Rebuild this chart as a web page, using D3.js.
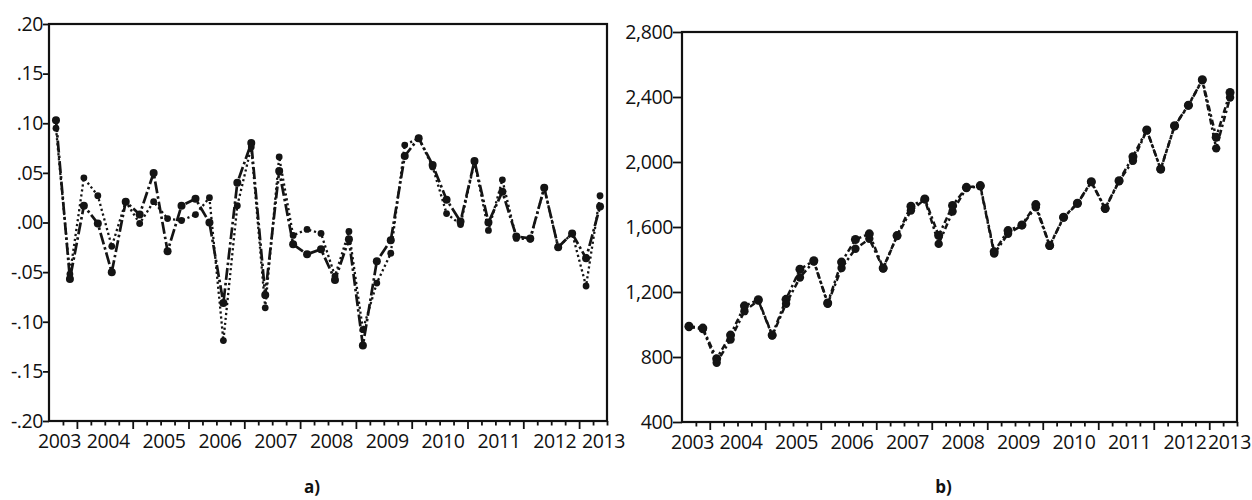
<!DOCTYPE html>
<html>
<head>
<meta charset="utf-8">
<script src="https://cdn.jsdelivr.net/npm/d3@7/dist/d3.min.js"></script>
<style>
  html, body { margin: 0; padding: 0; background: #fff; }
  svg { display: block; font-family: "Open Sans", "Liberation Sans", sans-serif; }
</style>
</head>
<body>
<svg id="chart" width="1252" height="500"></svg>
<script>
// quarterly observations, 2003Q3 .. 2013Q2
const periods = [
  "2003Q3", "2003Q4",
  "2004Q1", "2004Q2", "2004Q3", "2004Q4",
  "2005Q1", "2005Q2", "2005Q3", "2005Q4",
  "2006Q1", "2006Q2", "2006Q3", "2006Q4",
  "2007Q1", "2007Q2", "2007Q3", "2007Q4",
  "2008Q1", "2008Q2", "2008Q3", "2008Q4",
  "2009Q1", "2009Q2", "2009Q3", "2009Q4",
  "2010Q1", "2010Q2", "2010Q3", "2010Q4",
  "2011Q1", "2011Q2", "2011Q3", "2011Q4",
  "2012Q1", "2012Q2", "2012Q3", "2012Q4",
  "2013Q1", "2013Q2"
];
const yearLabels = [2003, 2004, 2005, 2006, 2007, 2008, 2009, 2010, 2011, 2012, 2013];

// panel a) : growth rates
const growthDashed = [
  0.103, -0.057, 0.017, -0.001, -0.050, 0.021, 0.008, 0.050, -0.029, 0.017,
  0.024, 0.000, -0.081, 0.040, 0.080, -0.073, 0.052, -0.022, -0.032, -0.027,
  -0.058, -0.017, -0.124, -0.039, -0.018, 0.067, 0.085, 0.058, 0.023, 0.001,
  0.062, 0.000, 0.031, -0.014, -0.016, 0.035, -0.025, -0.011, -0.036, 0.016
];
const growthDotted = [
  0.095, -0.052, 0.045, 0.027, -0.024, 0.021, -0.001, 0.021, 0.004, 0.002,
  0.008, 0.025, -0.119, 0.017, 0.076, -0.086, 0.066, -0.013, -0.007, -0.011,
  -0.054, -0.009, -0.108, -0.061, -0.031, 0.078, 0.085, 0.056, 0.009, -0.002,
  0.061, -0.008, 0.043, -0.016, -0.017, 0.035, -0.025, -0.011, -0.064, 0.027
];
const growthTicks = [-0.20, -0.15, -0.10, -0.05, 0.00, 0.05, 0.10, 0.15, 0.20];

// panel b) : levels
const levelActual = [
  990, 978, 790, 935, 1115, 1152, 935, 1155, 1340, 1392,
  1132, 1384, 1523, 1558, 1347, 1547, 1728, 1773, 1547, 1732,
  1844, 1855, 1448, 1578, 1613, 1738, 1486, 1660, 1746, 1879,
  1715, 1885, 2033, 2197, 1957, 2223, 2350, 2506, 2152, 2428
];
const levelFitted = [
  985, 972, 765, 908, 1082, 1148, 932, 1127, 1289, 1388,
  1128, 1347, 1466, 1527, 1345, 1545, 1701, 1770, 1496, 1695,
  1840, 1850, 1436, 1558, 1610, 1722, 1484, 1658, 1744, 1876,
  1712, 1882, 2008, 2195, 1955, 2220, 2348, 2504, 2084, 2397
];
const levelTicks = [400, 800, 1200, 1600, 2000, 2400, 2800];

const svg = d3.select("#chart");
const FONT = 19.5;

const toTime = p => +p.slice(0, 4) + (+p.slice(5) - 1) / 4 + 0.125;

function fmtGrowth(v) {
  const s = Math.abs(v).toFixed(2).replace(/^0/, "");
  return (v < -1e-9 ? "-" : "") + s;
}

function drawPanel(p) {
  const g = svg.append("g");
  const x = d3.scaleLinear().domain([2003.5, 2013.5]).range([p.left, p.right]);
  const y = d3.scaleLinear().domain(p.domain).range([p.bottom, p.top]);

  // y axis
  const ya = g.append("g")
    .attr("transform", `translate(${p.left},0)`)
    .call(d3.axisLeft(y).tickValues(p.ticks).tickFormat(p.fmt)
      .tickSize(p.yTick).tickPadding(0));
  ya.select(".domain").remove();
  ya.selectAll("line").attr("stroke", "#111").attr("stroke-width", 1.8);
  ya.selectAll("text").attr("font-size", FONT).attr("fill", "#111")
    .attr("letter-spacing", -0.4)
    .attr("font-family", "'Open Sans', sans-serif");

  // x axis: quarter boundaries, longer tick at each year start
  const bounds = d3.range(1, 41).map(i => 2003.5 + i / 4);
  const xa = g.append("g")
    .attr("transform", `translate(0,${p.bottom})`)
    .call(d3.axisBottom(x).tickValues(bounds).tickFormat(""));
  xa.select(".domain").remove();
  xa.selectAll("line")
    .attr("stroke", "#111").attr("stroke-width", 1.8)
    .attr("y2", d => Math.abs(d - Math.round(d)) < 1e-6 ? 8 : 4.5);

  // year labels, centred on the year, kept inside at both ends
  const lab = g.append("g").attr("font-size", FONT).attr("fill", "#111")
    .attr("letter-spacing", -0.4)
    .attr("text-anchor", "middle");
  lab.selectAll("text").data(yearLabels).join("text")
    .attr("y", p.bottom + 27)
    .text(d => d)
    .attr("x", function (d) {
      const w = this.getComputedTextLength();
      let cx = x(d + 0.5) + 3.5;
      cx = Math.max(cx, p.left - 11 + w / 2);
      cx = Math.min(cx, Math.min(p.right + 18, 1251) - w / 2);
      return cx;
    });

  // frame
  g.append("rect")
    .attr("x", p.left).attr("y", p.top)
    .attr("width", p.right - p.left).attr("height", p.bottom - p.top)
    .attr("fill", "none").attr("stroke", "#111").attr("stroke-width", 2.2);

  // series
  const line = d3.line().x(d => x(d.t)).y(d => y(d.v));
  p.series.forEach(s => {
    const pts = s.values.map((v, i) => ({ t: toTime(periods[i]), v }));
    g.append("path").datum(pts)
      .attr("d", line)
      .attr("fill", "none")
      .attr("stroke", "#141414")
      .attr("stroke-width", s.width)
      .attr("stroke-dasharray", s.dash);
    g.append("g").selectAll("circle").data(pts).join("circle")
      .attr("cx", d => x(d.t)).attr("cy", d => y(d.v))
      .attr("r", s.r)
      .attr("fill", "#141414");
  });

  svg.append("text")
    .attr("x", (p.left + p.right) / 2 - 16).attr("y", 493)
    .attr("text-anchor", "middle")
    .attr("font-size", 17).attr("font-weight", "bold").attr("fill", "#111")
    .text(p.caption);
}

drawPanel({
  left: 49, right: 607, top: 24, bottom: 421,
  domain: [-0.2, 0.2], ticks: growthTicks, fmt: fmtGrowth, yTick: 6,
  caption: "a)",
  series: [
    { values: growthDotted, dash: "2.2,2.8", width: 2.3, r: 3.4 },
    { values: growthDashed, dash: "12,3,2.5,3", width: 2.7, r: 4 }
  ]
});

drawPanel({
  left: 682, right: 1237, top: 32, bottom: 422,
  domain: [400, 2800], ticks: levelTicks, fmt: d3.format(","), yTick: 9,
  caption: "b)",
  series: [
    { values: levelFitted, dash: "6,3,2.5,3", width: 2.5, r: 4.2 },
    { values: levelActual, dash: "6,3,2.5,3", width: 2.5, r: 4.5 }
  ]
});
</script>
</body>
</html>
